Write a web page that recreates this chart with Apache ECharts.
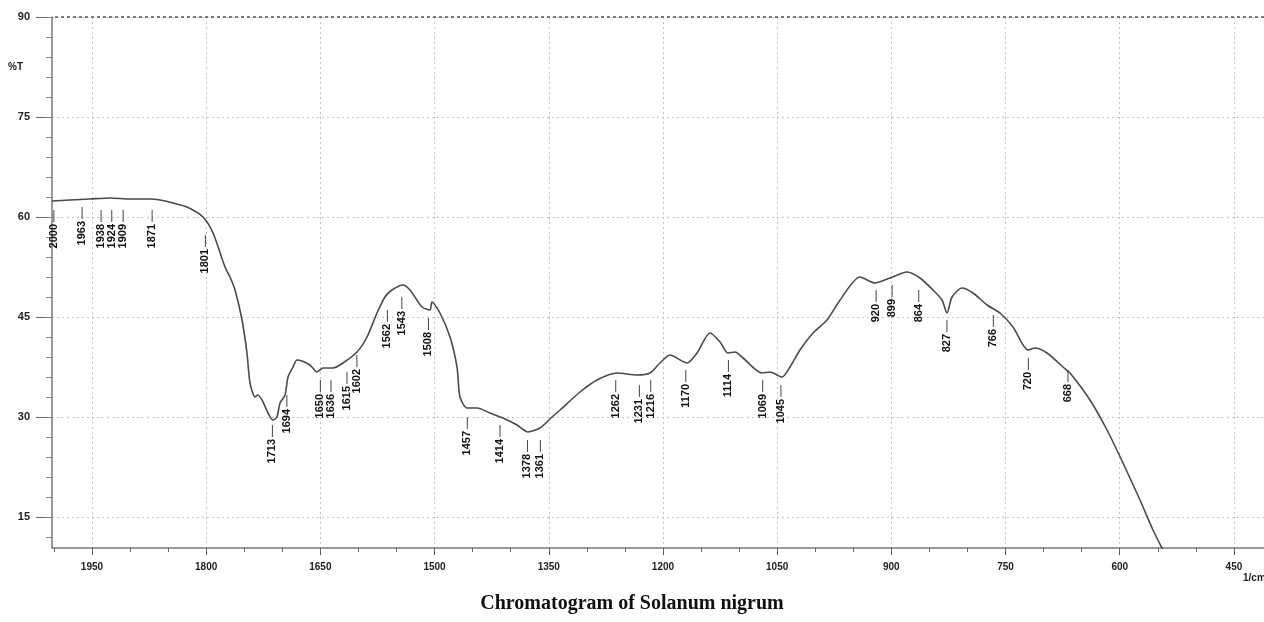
<!DOCTYPE html>
<html>
<head>
<meta charset="utf-8">
<script src="https://cdn.jsdelivr.net/npm/echarts@6/dist/echarts.min.js"></script>
<style>
html,body{margin:0;padding:0;background:#fff;}
#c{width:1264px;height:622px;}
</style>
</head>
<body>
<div id="c"></div>
<script>
// Spectrum (wavenumber in 1/cm, transmittance in %T)
const wavenumbers = [2002.5,1978.9,1952.6,1926.3,1900.0,1873.8,1860.6,1843.6,1825.2,1804.2,1791.0,1775.3,1768.7,1762.1,1752.9,1746.4,1742.4,1735.9,1731.9,1725.3,1718.8,1712.2,1707.0,1703.0,1696.4,1692.5,1685.9,1680.7,1674.1,1663.6,1654.4,1646.5,1633.4,1620.3,1601.9,1588.7,1575.6,1565.1,1555.9,1541.5,1532.3,1516.5,1506.0,1503.4,1492.9,1479.7,1470.5,1466.6,1457.4,1444.3,1427.2,1410.1,1391.7,1377.3,1361.5,1345.7,1335.2,1308.9,1286.6,1260.3,1234.1,1217.0,1203.9,1190.7,1168.4,1155.3,1138.2,1125.0,1114.5,1105.3,1094.8,1069.9,1059.4,1043.6,1033.1,1020.0,1002.9,984.5,967.4,941.2,921.5,901.8,879.4,862.4,845.3,833.5,826.9,820.3,807.2,792.7,774.3,757.3,740.2,720.5,711.3,695.5,674.5,665.3,639.1,616.7,595.7,573.4,556.3,543.2];
const transmittance = [62.4,62.55,62.7,62.85,62.7,62.7,62.55,62.1,61.5,60.0,57.6,52.5,51.0,49.05,44.55,39.6,35.1,33.0,33.3,32.25,30.6,29.55,30.0,32.1,33.3,36.0,37.5,38.55,38.4,37.8,36.75,37.35,37.35,38.1,39.75,42.0,45.6,48.0,49.05,49.8,49.05,46.5,46.05,47.25,45.6,42.0,37.5,33.0,31.35,31.35,30.6,29.85,28.8,27.75,28.35,30.0,31.05,33.75,35.55,36.6,36.3,36.6,38.1,39.3,38.1,39.6,42.6,41.25,39.6,39.75,38.85,36.6,36.75,36.0,37.5,40.05,42.6,44.55,47.55,51.0,50.1,50.85,51.75,50.85,49.05,47.55,45.6,48.0,49.35,48.6,46.8,45.6,43.5,40.05,40.35,39.6,37.5,36.6,32.55,28.05,23.1,17.55,13.05,10.05];

// Peak annotations: wavenumber and %T where the marker starts
const peakWavenumbers = [2000,1963,1938,1924,1909,1871,1801,1713,1694,1650,1636,1615,1602,1562,1543,1508,1457,1414,1378,1361,1262,1231,1216,1170,1114,1069,1045,920,899,864,827,766,720,668];
const peakMarkerTops = [61.05,61.5,61.05,61.05,61.05,61.05,57.3,28.8,33.3,35.55,35.55,36.75,39.3,46.05,48.0,44.85,30.0,28.8,26.55,26.55,35.55,34.8,35.55,37.05,38.55,35.55,34.8,49.05,49.8,49.05,44.55,45.3,38.85,37.05];

// Axis ticks
const xTickLabels = [1950,1800,1650,1500,1350,1200,1050,900,750,600,450];
const xMinorTicks = [2000,1950,1900,1850,1800,1750,1700,1650,1600,1550,1500,1450,1400,1350,1300,1250,1200,1150,1100,1050,1000,950,900,850,800,750,700,650,600,550,500,450];
const yTickLabels = [15,30,45,60,75,90];
const yMinorTicks = [12,15,18,21,24,27,30,33,36,39,42,45,48,51,54,57,60,63,66,69,72,75,78,81,84,87,90];

const X_MIN = 410.5, X_MAX = 2002.5, Y_MIN = 10.35, Y_MAX = 90;

const chart = echarts.init(document.getElementById('c'), null, {renderer: 'canvas'});
const axisFont = {fontFamily: 'Liberation Sans', fontWeight: 'bold', fontSize: 10, color: '#222'};

chart.setOption({
  animation: false,
  backgroundColor: '#fff',
  grid: {left: 52, right: 0, top: 17, bottom: 74, containLabel: false},
  xAxis: [
    {
      type: 'value', inverse: true, min: X_MIN, max: X_MAX,
      axisLine: {show: true, onZero: false, lineStyle: {color: '#777', width: 1.5}},
      axisTick: {show: true, length: 7, customValues: xTickLabels, lineStyle: {color: '#555'}},
      axisLabel: Object.assign({customValues: xTickLabels, margin: 14, formatter: v => String(v)}, axisFont),
      splitLine: {show: true, lineStyle: {color: '#c4c4c4', type: [2, 3], width: 1}}
    },
    {
      type: 'value', inverse: true, min: X_MIN, max: X_MAX, position: 'bottom',
      axisLine: {show: false},
      axisTick: {show: true, length: 4, customValues: xMinorTicks, lineStyle: {color: '#666'}},
      axisLabel: {show: false},
      splitLine: {show: false}
    }
  ],
  yAxis: [
    {
      type: 'value', min: Y_MIN, max: Y_MAX,
      axisLine: {show: true, onZero: false, lineStyle: {color: '#777', width: 1.5}},
      axisTick: {show: true, length: 16, customValues: yTickLabels, lineStyle: {color: '#666'}},
      axisLabel: Object.assign({customValues: yTickLabels, margin: 22, formatter: v => String(v)}, axisFont, {fontSize: 11}),
      splitLine: {show: true, lineStyle: {color: '#c4c4c4', type: [2, 3], width: 1}}
    },
    {
      type: 'value', min: Y_MIN, max: Y_MAX, position: 'left',
      axisLine: {show: false},
      axisTick: {show: true, length: 6, customValues: yMinorTicks, lineStyle: {color: '#888'}},
      axisLabel: {show: false},
      splitLine: {show: false}
    }
  ],
  series: [
    {
      type: 'line',
      data: wavenumbers.map((w, i) => [w, transmittance[i]]),
      showSymbol: false,
      smooth: 0.25,
      clip: true,
      lineStyle: {color: '#4a4a4a', width: 1.6},
      markLine: {
        silent: true, symbol: 'none', label: {show: false},
        lineStyle: {color: '#555', type: [3, 3], width: 1.5},
        data: [{yAxis: Y_MAX}]
      },
      z: 3
    },
    {
      type: 'custom',
      data: peakWavenumbers.map((w, i) => [w, peakMarkerTops[i]]),
      renderItem: function (params, api) {
        const p = api.coord([api.value(0), api.value(1)]);
        const txt = String(peakWavenumbers[params.dataIndex]);
        return {
          type: 'group',
          children: [
            {type: 'line', shape: {x1: p[0], y1: p[1], x2: p[0], y2: p[1] + 12},
             style: {stroke: '#444', lineWidth: 1}},
            {type: 'text', x: p[0], y: p[1] + 14, rotation: Math.PI / 2,
             style: {text: txt, fill: '#111', font: 'bold 11px "Liberation Sans"',
                     align: 'right', verticalAlign: 'middle'}}
          ]
        };
      },
      z: 4
    }
  ],
  graphic: [
    {type: 'text', left: 8, top: 62,
     style: {text: '%T', fill: '#222', font: 'bold 10px "Liberation Sans"'}},
    {type: 'text', left: 1243, top: 573,
     style: {text: '1/cm', fill: '#222', font: 'bold 10px "Liberation Sans"'}},
    {type: 'text', left: 'center', top: 594,
     style: {text: 'Chromatogram of Solanum nigrum', fill: '#111',
             font: 'bold 20px "Liberation Serif"'}}
  ]
});
</script>
</body>
</html>
